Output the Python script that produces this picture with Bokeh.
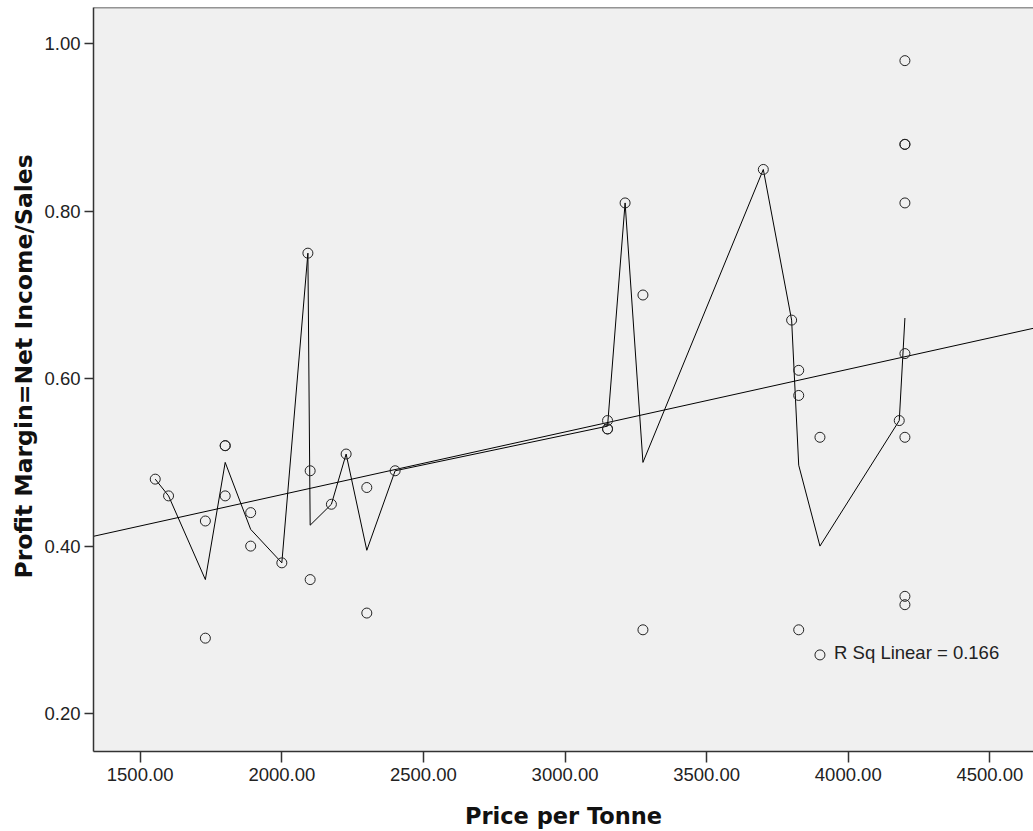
import numpy as np
from bokeh.plotting import figure
from bokeh.models import FixedTicker, NumeralTickFormatter, Span, Range1d, Title
from bokeh.core.properties import value
from bokeh.embed import file_html
from bokeh.resources import INLINE

# ---- data ----
price = [1553, 1600, 1730, 1730, 1800, 1800, 1800, 1890, 1890, 2000,
         2092, 2100, 2100, 2175, 2227, 2300, 2300, 2400,
         3150, 3150, 3150, 3212, 3275, 3275, 3700, 3800, 3825, 3825, 3825,
         3900, 3900, 4180, 4200, 4200, 4200, 4200, 4200, 4200, 4200, 4200]
margin = [0.48, 0.46, 0.43, 0.29, 0.52, 0.52, 0.46, 0.44, 0.40, 0.38,
          0.75, 0.49, 0.36, 0.45, 0.51, 0.47, 0.32, 0.49,
          0.55, 0.54, 0.54, 0.81, 0.70, 0.30, 0.85, 0.67, 0.61, 0.58, 0.30,
          0.53, 0.27, 0.55, 0.98, 0.88, 0.88, 0.81, 0.63, 0.53, 0.34, 0.33]
x_ticks = [1500, 2000, 2500, 3000, 3500, 4000, 4500]
y_ticks = [0.2, 0.4, 0.6, 0.8, 1.0]
x_title = "Price per Tonne"
y_title = "Profit Margin=Net Income/Sales"

X_RANGE = (1335, 4654)
Y_RANGE = (0.1546, 1.0435)

xa = np.array(price, dtype=float)
ya = np.array(margin, dtype=float)

# mean of y at each distinct x (jagged fit line)
ux = np.unique(xa)
uy = np.array([ya[xa == u].mean() for u in ux])

# linear regression
slope, intercept = np.polyfit(xa, ya, 1)
r2 = np.corrcoef(xa, ya)[0, 1] ** 2
reg_x = np.array(X_RANGE, dtype=float)
reg_y = intercept + slope * reg_x

FONT = "Liberation Sans"
TITLE_FONT = "DejaVu Sans"
TXT = "#222222"

p = figure(width=1033, height=831, output_backend="svg", toolbar_location=None,
           x_range=Range1d(*X_RANGE), y_range=Range1d(*Y_RANGE),
           min_border_left=93, min_border_right=0, min_border_top=7,
           min_border_bottom=80)
p.background_fill_color = "#f0f0f0"
p.border_fill_color = "white"
p.outline_line_color = None
p.xgrid.visible = False
p.ygrid.visible = False

for ax in (p.xaxis[0], p.yaxis[0]):
    ax.formatter = NumeralTickFormatter(format="0.00")
    ax.minor_tick_line_color = None
    ax.major_tick_in = 0
    ax.axis_line_color = "#333333"
    ax.axis_line_width = 1.5
    ax.major_tick_line_color = "#333333"
    ax.major_tick_line_width = 1.5
    ax.major_label_text_font = FONT
    ax.major_label_text_font_size = "18.5px"
    ax.major_label_text_color = TXT
    ax.axis_label_text_font = TITLE_FONT
    ax.axis_label_text_font_style = "bold"
    ax.axis_label_text_font_size = "22.5px"
    ax.axis_label_text_color = "#111111"

p.xaxis[0].ticker = FixedTicker(ticks=x_ticks)
p.yaxis[0].ticker = FixedTicker(ticks=y_ticks)
p.xaxis[0].major_tick_out = 11
p.yaxis[0].major_tick_out = 9
p.xaxis[0].major_label_standoff = 5
p.yaxis[0].major_label_standoff = 4
p.xaxis[0].axis_label = x_title
p.xaxis[0].axis_label_standoff = 19

# y title as a side title so that it can sit where the reference has it
p.add_layout(Title(text=y_title, align="left", offset=173,
                   text_font=TITLE_FONT, text_font_size="23.5px",
                   text_font_style="bold", text_color="#111111",
                   standoff=8), "left")

# top border of the frame
p.add_layout(Span(location=Y_RANGE[1], dimension="width", line_color="#333333", line_width=1.5))

# regression line
p.line(reg_x, reg_y, line_color="black", line_width=1)
# mean line
p.line(ux, uy, line_color="black", line_width=1)
# points
p.scatter(xa, ya, marker="circle", size=10, fill_color=None,
          line_color="#222222", line_width=1)

p.text(x=[3950], y=[0.2725], text=["R Sq Linear = %.3f" % r2],
       text_font=value(FONT), text_font_size="18.5px", text_color=TXT,
       text_align="left", text_baseline="alphabetic")

open("out.html", "w").write(file_html(p, INLINE))
